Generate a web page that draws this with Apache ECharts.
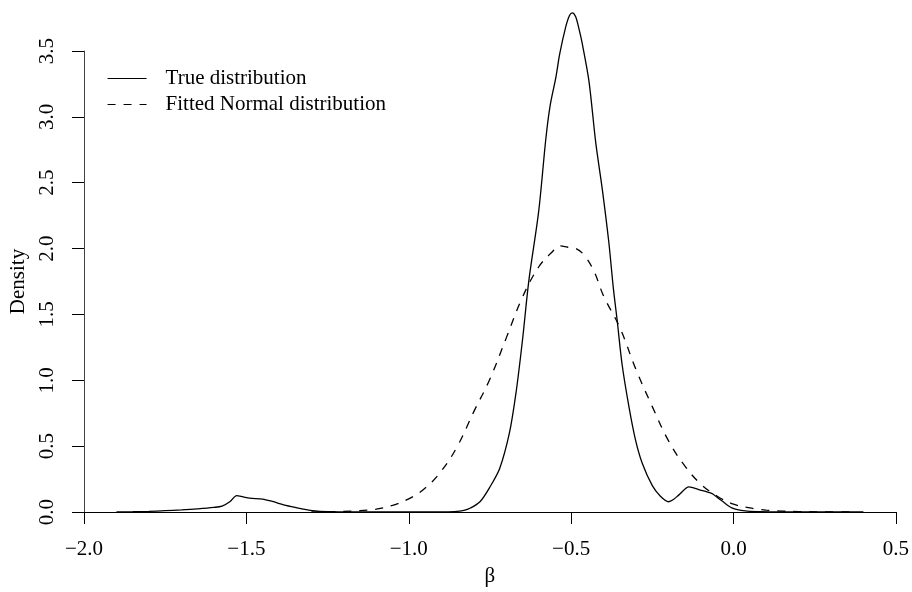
<!DOCTYPE html>
<html>
<head>
<meta charset="utf-8">
<script src="https://cdn.jsdelivr.net/npm/echarts@6/dist/echarts.min.js"></script>
<style>
  html, body { margin: 0; padding: 0; background: #fff; }
  #chart { width: 912px; height: 592px; }
</style>
</head>
<body>
<div id="chart"></div>
<script>
// Density curves
var trueX = [-1.90, -1.85, -1.80, -1.75, -1.70, -1.65, -1.60, -1.575, -1.55, -1.53, -1.51, -1.49, -1.45, -1.42, -1.385, -1.35, -1.32, -1.28, -1.24, -1.20,
    -0.90, -0.86, -0.83, -0.81, -0.78, -0.75, -0.72, -0.69, -0.67, -0.65, -0.63, -0.60, -0.578, -0.565, -0.547, -0.535, -0.517, -0.505, -0.496,
    -0.486, -0.476, -0.466, -0.445, -0.424, -0.404, -0.384, -0.370, -0.358, -0.343, -0.322, -0.302, -0.281, -0.25, -0.225, -0.20, -0.185,
    -0.168, -0.137, -0.107, -0.066, -0.05, -0.035, -0.005, 0.036, 0.08, 0.15, 0.40];
var trueY = [0, 0.002, 0.005, 0.010, 0.016, 0.024, 0.035, 0.045, 0.08, 0.125, 0.115, 0.105, 0.098, 0.08, 0.055, 0.035, 0.02, 0.006, 0.002, 0,
    0, 0.003, 0.012, 0.03, 0.08, 0.19, 0.33, 0.60, 0.90, 1.30, 1.76, 2.28, 2.83, 3.08, 3.30, 3.48, 3.68, 3.77, 3.79,
    3.76, 3.67, 3.56, 3.27, 2.80, 2.45, 2.05, 1.70, 1.45, 1.12, 0.80, 0.55, 0.37, 0.20, 0.12, 0.078, 0.095,
    0.13, 0.19, 0.17, 0.14, 0.11, 0.083, 0.032, 0.008, 0.002, 0, 0];

var fitX = [-1.30, -1.25, -1.20, -1.15, -1.10, -1.05, -1.00, -0.95, -0.90, -0.85, -0.80, -0.75, -0.70, -0.65, -0.60, -0.56,
    -0.535, -0.51, -0.485, -0.46, -0.43, -0.40, -0.35, -0.30, -0.25, -0.20, -0.15, -0.10, -0.05, 0.00, 0.05, 0.10, 0.15, 0.20, 0.30, 0.38];
var fitY = [0, 0.002, 0.005, 0.01, 0.022, 0.05, 0.10, 0.18, 0.31, 0.50, 0.76, 1.01, 1.32, 1.63, 1.86, 1.97,
    2.02, 2.01, 2.00, 1.95, 1.83, 1.64, 1.40, 1.08, 0.80, 0.54, 0.35, 0.21, 0.12, 0.06, 0.031, 0.015, 0.007, 0.003, 0.001, 0];

var seriesNames = ['True distribution', 'Fitted Normal distribution'];
var xTicks = { min: -2, max: 0.5, step: 0.5 };
var yTicks = { min: 0, max: 3.5, step: 0.5 };

var pairs = function(xs, ys) {
    return xs.map(function(x, i) { return [x, ys[i]]; });
};

var fmt = function(v) {
    return v.toFixed(1).replace('-', '\u2212');
};

var serif = '"Liberation Serif", "Times New Roman", serif';

var chart = echarts.init(document.getElementById('chart'), null, { renderer: 'canvas' });

chart.setOption({
    animation: false,
    textStyle: { fontFamily: serif, color: '#000' },
    grid: { left: 84, right: 14, top: 51, bottom: 76 },

    // legend: line only, no symbol
    legend: {
        orient: 'vertical',
        left: 102,
        top: 63,
        itemWidth: 39,
        itemHeight: 14,
        itemGap: 5,
        data: seriesNames,
        itemStyle: { opacity: 0 },
        lineStyle: { width: 1.1 },
        textStyle: {
            fontFamily: serif,
            fontSize: 21,
            color: '#000',
            padding: [0, 0, 0, 14]
        }
    },

    xAxis: {
        type: 'value',
        min: xTicks.min,
        max: xTicks.max,
        interval: xTicks.step,
        name: '\u03b2',
        nameLocation: 'middle',
        nameGap: 54,
        nameTextStyle: { fontFamily: serif, fontSize: 21, color: '#000' },
        axisLine: { onZero: false, lineStyle: { color: '#000', width: 1 } },
        axisTick: { length: 12, lineStyle: { color: '#000' } },
        axisLabel: { formatter: fmt, fontFamily: serif, fontSize: 21, color: '#000', margin: 27 },
        splitLine: { show: false }
    },

    yAxis: {
        type: 'value',
        min: yTicks.min,
        max: yTicks.max,
        interval: yTicks.step,
        name: 'Density',
        nameLocation: 'middle',
        nameRotate: 90,
        nameGap: 50,
        nameTextStyle: { fontFamily: serif, fontSize: 21, color: '#000' },
        axisLine: { show: true, onZero: false, lineStyle: { color: '#444', width: 1 } },
        axisTick: { show: true, length: 12, lineStyle: { color: '#000' } },
        axisLabel: { formatter: fmt, rotate: 90, fontFamily: serif, fontSize: 21, color: '#000', margin: 26 },
        splitLine: { show: false }
    },

    series: [
        {
            name: seriesNames[0],
            type: 'line',
            data: pairs(trueX, trueY),
            showSymbol: false,
            symbol: 'none',
            smooth: 0.3,
            clip: false,
            lineStyle: { color: '#000', width: 1.3, type: 'solid' },
            itemStyle: { color: '#000' }
        },
        {
            name: seriesNames[1],
            type: 'line',
            data: pairs(fitX, fitY),
            showSymbol: false,
            symbol: 'none',
            smooth: 0.4,
            clip: false,
            lineStyle: { color: '#000', width: 1.3, type: [8, 8] },
            itemStyle: { color: '#000' }
        }
    ]
});
</script>
</body>
</html>
